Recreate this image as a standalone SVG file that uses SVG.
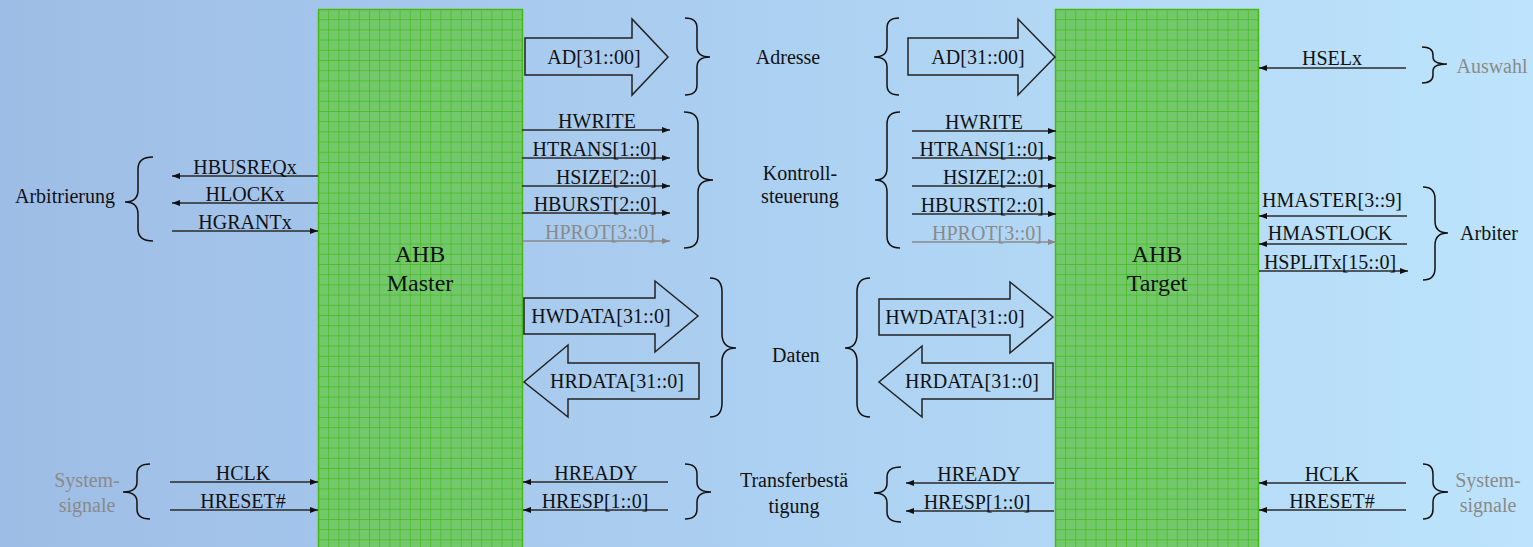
<svg xmlns="http://www.w3.org/2000/svg" width="1533" height="547" viewBox="0 0 1533 547">
<defs>
<linearGradient id="bg" x1="0" y1="0" x2="1" y2="0">
<stop offset="0" stop-color="#9ebde6"/>
<stop offset="0.5" stop-color="#acd0f1"/>
<stop offset="1" stop-color="#bde4fc"/>
</linearGradient>
<pattern id="gridM" patternUnits="userSpaceOnUse" x="318" y="9" width="10.2" height="10.2">
<rect width="10.2" height="10.2" fill="#72c86b"/>
<path d="M0,0 H10.2 M0,0 V10.2" stroke="#46bb18" stroke-width="1.3" fill="none"/>
</pattern>
<pattern id="gridT" patternUnits="userSpaceOnUse" x="1055" y="9" width="10.15" height="10.2">
<rect width="10.15" height="10.2" fill="#72c86b"/>
<path d="M0,0 H10.15 M0,0 V10.2" stroke="#46bb18" stroke-width="1.3" fill="none"/>
</pattern>
<marker id="ah" viewBox="0 0 8 6" refX="8" refY="3" markerWidth="8" markerHeight="6" markerUnits="userSpaceOnUse" orient="auto">
<path d="M0,0 L8,3 L0,6 z" fill="#111"/>
</marker>
<marker id="ahg" viewBox="0 0 8 6" refX="8" refY="3" markerWidth="8" markerHeight="6" markerUnits="userSpaceOnUse" orient="auto">
<path d="M0,0 L8,3 L0,6 z" fill="#888"/>
</marker>
</defs>
<style>
text{font-family:"Liberation Serif","Times New Roman",serif;font-size:20px;fill:#111}
.c{text-anchor:middle}
.e{text-anchor:end}
.g{fill:#8a8a8a}
.big{font-size:24px}
.sig{stroke:#2a2a2a;stroke-width:1.4;fill:none;marker-end:url(#ah)}
.sigg{stroke:#8a8a8a;stroke-width:1.4;fill:none;marker-end:url(#ahg)}
.br{stroke:#111;stroke-width:1.5;fill:none}
.fat{stroke:#222;stroke-width:1.5;fill:none}
</style>
<rect width="1533" height="547" fill="url(#bg)"/>

<g id="master">
<rect x="318.5" y="9.5" width="204" height="545" fill="url(#gridM)" stroke="#46bb10" stroke-width="1.5"/>
<text class="c big" x="420" y="262">AHB</text>
<text class="c big" x="420" y="291">Master</text>
</g>
<g id="target">
<rect x="1055.5" y="9.5" width="203" height="545" fill="url(#gridT)" stroke="#46bb10" stroke-width="1.5"/>
<text class="c big" x="1157" y="262">AHB</text>
<text class="c big" x="1157" y="291">Target</text>
</g>

<g id="connectors">
<line class="sig" x1="318" y1="176" x2="172" y2="176"/>
<line class="sig" x1="318" y1="203" x2="172" y2="203"/>
<line class="sig" x1="172" y1="231" x2="318" y2="231"/>
<line class="sig" x1="170" y1="482" x2="318" y2="482"/>
<line class="sig" x1="170" y1="510" x2="318" y2="510"/>
<line class="sig" x1="522" y1="130" x2="670" y2="130"/>
<line class="sig" x1="522" y1="158" x2="670" y2="158"/>
<line class="sig" x1="522" y1="186" x2="670" y2="186"/>
<line class="sig" x1="522" y1="213" x2="670" y2="213"/>
<line class="sigg" x1="522" y1="241" x2="670" y2="241"/>
<line class="sig" x1="912" y1="131" x2="1056" y2="131"/>
<line class="sig" x1="912" y1="158" x2="1056" y2="158"/>
<line class="sig" x1="912" y1="186" x2="1056" y2="186"/>
<line class="sig" x1="912" y1="214" x2="1056" y2="214"/>
<line class="sigg" x1="912" y1="242" x2="1056" y2="242"/>
<line class="sig" x1="668" y1="482" x2="523" y2="482"/>
<line class="sig" x1="668" y1="510" x2="523" y2="510"/>
<line class="sig" x1="1054" y1="483" x2="906" y2="483"/>
<line class="sig" x1="1054" y1="511" x2="906" y2="511"/>
<line class="sig" x1="1406" y1="68" x2="1259" y2="68"/>
<line class="sig" x1="1407" y1="216" x2="1259" y2="216"/>
<line class="sig" x1="1407" y1="244" x2="1259" y2="244"/>
<line class="sig" x1="1259" y1="271" x2="1408" y2="271"/>
<line class="sig" x1="1406" y1="483" x2="1259" y2="483"/>
<line class="sig" x1="1406" y1="510" x2="1259" y2="510"/>
<path class="fat" d="M525,38 H632 V19 L668,57 L632,95 V75 H525 Z"/>
<path class="fat" d="M908,38 H1018 V19 L1055,57 L1018,95 V75 H908 Z"/>
<path class="fat" d="M524,298 H655 V281 L698,316 L655,352 V334 H524 Z"/>
<path class="fat" d="M699,363 H568 V345 L524,382 L568,417 V399 H699 Z"/>
<path class="fat" d="M879,299 H1010 V282 L1053,317 L1010,353 V335 H879 Z"/>
<path class="fat" d="M1053,363 H922 V346 L879,382 L922,417 V399 H1053 Z"/>
</g>

<g id="braces">
<path class="br" d="M153,157 Q138,157 138,169 L138,190 Q138,202 125,202 Q138,202 138,214 L138,229 Q138,241 153,241"/>
<path class="br" d="M150,464 Q137,464 137,474 L137,482 Q137,492 123,492 Q137,492 137,502 L137,509 Q137,519 150,519"/>
<path class="br" d="M685,18 Q697,18 697,28 L697,47 Q697,57 710,57 Q697,57 697,67 L697,85 Q697,95 685,95"/>
<path class="br" d="M899,18 Q887,18 887,28 L887,47 Q887,57 874,57 Q887,57 887,67 L887,85 Q887,95 899,95"/>
<path class="br" d="M684,112 Q698,112 698,124 L698,168 Q698,180 713,180 Q698,180 698,192 L698,236 Q698,248 684,248"/>
<path class="br" d="M900,112 Q887,112 887,124 L887,168 Q887,180 875,180 Q887,180 887,192 L887,236 Q887,248 900,248"/>
<path class="br" d="M710,278 Q722,278 722,292 L722,334 Q722,348 736,348 Q722,348 722,362 L722,403 Q722,417 710,417"/>
<path class="br" d="M870,278 Q857,278 857,292 L857,334 Q857,348 845,348 Q857,348 857,362 L857,403 Q857,417 870,417"/>
<path class="br" d="M685,464 Q697,464 697,474 L697,482 Q697,492 711,492 Q697,492 697,502 L697,509 Q697,519 685,519"/>
<path class="br" d="M901,467 Q887,467 887,477 L887,483 Q887,493 874,493 Q887,493 887,503 L887,512 Q887,522 901,522"/>
<path class="br" d="M1422,47 Q1433,47 1433,55 L1433,57 Q1433,64 1447,64 Q1433,64 1433,71 L1433,75 Q1433,83 1422,83"/>
<path class="br" d="M1423,187 Q1435,187 1435,199 L1435,221 Q1435,233 1448,233 Q1435,233 1435,245 L1435,268 Q1435,280 1423,280"/>
<path class="br" d="M1423,464 Q1433,464 1433,474 L1433,482 Q1433,492 1448,492 Q1433,492 1433,502 L1433,509 Q1433,519 1423,519"/>
</g>

<g id="labels">
<text x="65" y="203" class="c">Arbitrierung</text>
<text x="245" y="174" class="c">HBUSREQx</text>
<text x="245" y="201" class="c">HLOCKx</text>
<text x="245" y="229" class="c">HGRANTx</text>
<text x="87" y="487" class="c g">System-</text>
<text x="87" y="512" class="c g">signale</text>
<text x="243" y="480" class="c">HCLK</text>
<text x="243" y="508" class="c">HRESET#</text>

<text x="594" y="64" class="c">AD[31::00]</text>
<text x="978" y="64" class="c">AD[31::00]</text>
<text x="788" y="64" class="c">Adresse</text>

<text x="597" y="128" class="c">HWRITE</text>
<text x="657" y="156" class="e">HTRANS[1::0]</text>
<text x="657" y="184" class="e">HSIZE[2::0]</text>
<text x="657" y="211" class="e">HBURST[2::0]</text>
<text x="655" y="239" class="e g">HPROT[3::0]</text>
<text x="800" y="180" class="c">Kontroll-</text>
<text x="800" y="203" class="c">steuerung</text>
<text x="984" y="129" class="c">HWRITE</text>
<text x="1044" y="156" class="e">HTRANS[1::0]</text>
<text x="1044" y="184" class="e">HSIZE[2::0]</text>
<text x="1044" y="212" class="e">HBURST[2::0]</text>
<text x="1042" y="240" class="e g">HPROT[3::0]</text>

<text x="601" y="323" class="c">HWDATA[31::0]</text>
<text x="617" y="388" class="c">HRDATA[31::0]</text>
<text x="955" y="324" class="c">HWDATA[31::0]</text>
<text x="972" y="388" class="c">HRDATA[31::0]</text>
<text x="796" y="362" class="c">Daten</text>

<text x="596" y="480" class="c">HREADY</text>
<text x="595" y="508" class="c">HRESP[1::0]</text>
<text x="794" y="487" class="c">Transferbestä</text>
<text x="794" y="513" class="c">tigung</text>
<text x="979" y="481" class="c">HREADY</text>
<text x="977" y="509" class="c">HRESP[1::0]</text>

<text x="1332" y="65" class="c">HSELx</text>
<text x="1492" y="73" class="c g">Auswahl</text>
<text x="1332" y="207" class="c">HMASTER[3::9]</text>
<text x="1330" y="240" class="c">HMASTLOCK</text>
<text x="1330" y="269" class="c">HSPLITx[15::0]</text>
<text x="1489" y="240" class="c">Arbiter</text>
<text x="1332" y="481" class="c">HCLK</text>
<text x="1332" y="508" class="c">HRESET#</text>
<text x="1488" y="487" class="c g">System-</text>
<text x="1488" y="512" class="c g">signale</text>
</g>
</svg>
